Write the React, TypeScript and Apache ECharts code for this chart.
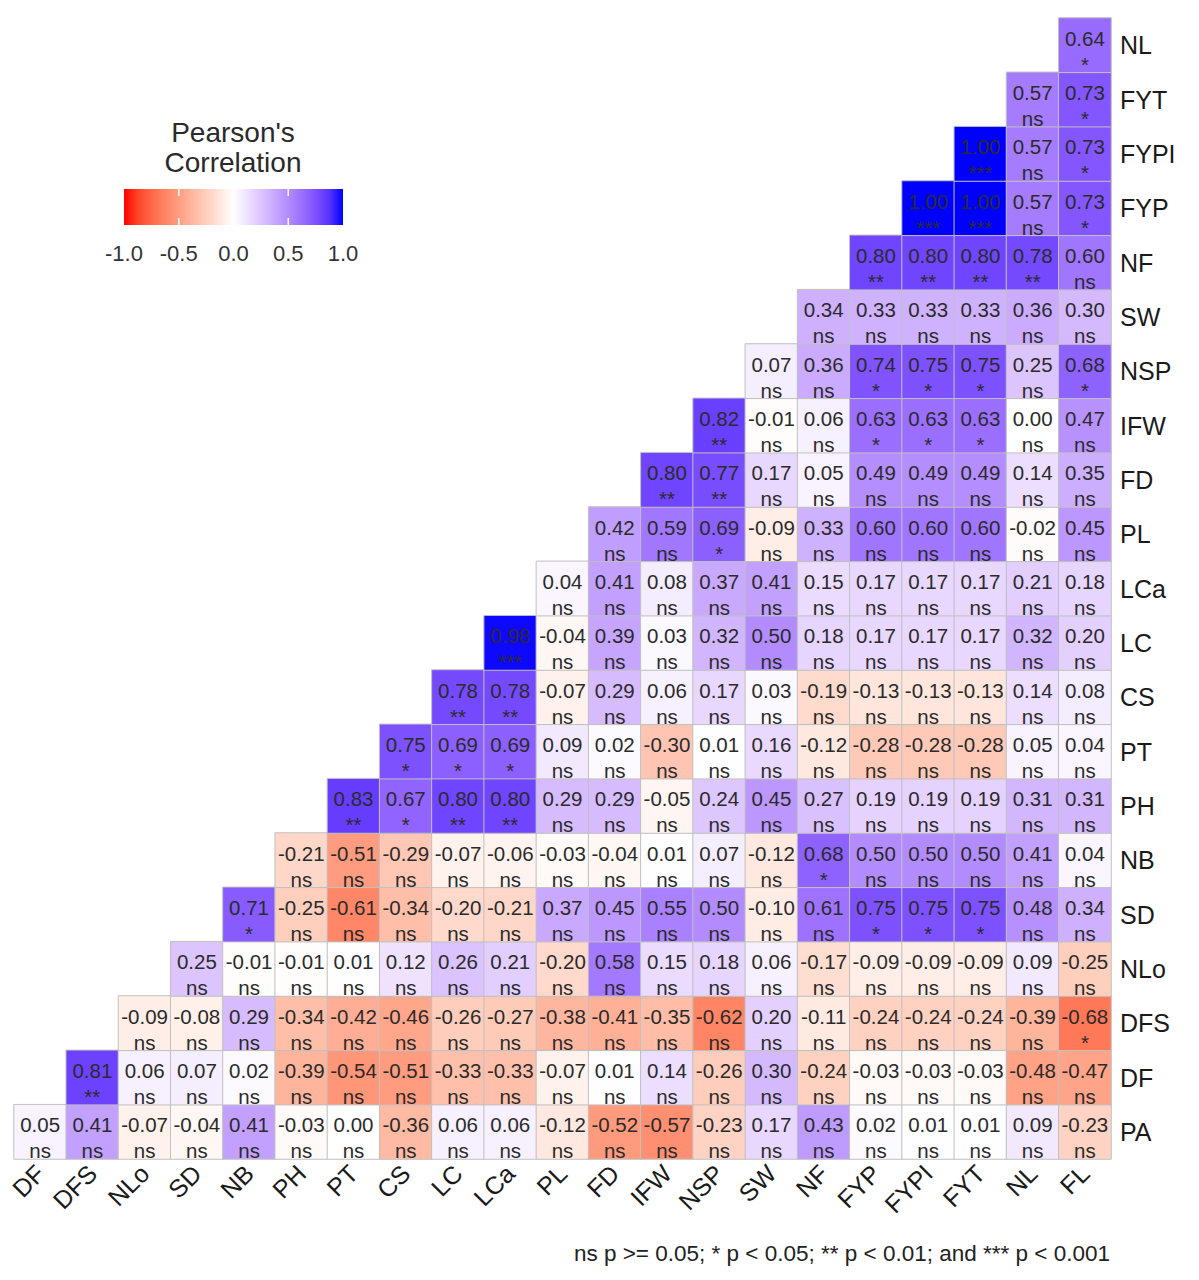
import React, { useEffect, useRef } from 'react';
import * as echarts from 'echarts';

// variables on each axis (rows listed bottom to top)
const rowVars = ['PA', 'DF', 'DFS', 'NLo', 'SD', 'NB', 'PH', 'PT', 'CS', 'LC', 'LCa', 'PL', 'FD', 'IFW', 'NSP', 'SW', 'NF', 'FYP', 'FYPI', 'FYT', 'NL'];
const colVars = ['DF', 'DFS', 'NLo', 'SD', 'NB', 'PH', 'PT', 'CS', 'LC', 'LCa', 'PL', 'FD', 'IFW', 'NSP', 'SW', 'NF', 'FYP', 'FYPI', 'FYT', 'NL', 'FL'];

// correlations, row by row; row i starts at column i
const corrPA = [0.05, 0.41, -0.07, -0.04, 0.41, -0.03, 0.0, -0.36, 0.06, 0.06, -0.12, -0.52, -0.57, -0.23, 0.17, 0.43, 0.02, 0.01, 0.01, 0.09, -0.23];
const corrDF = [0.81, 0.06, 0.07, 0.02, -0.39, -0.54, -0.51, -0.33, -0.33, -0.07, 0.01, 0.14, -0.26, 0.3, -0.24, -0.03, -0.03, -0.03, -0.48, -0.47];
const corrDFS = [-0.09, -0.08, 0.29, -0.34, -0.42, -0.46, -0.26, -0.27, -0.38, -0.41, -0.35, -0.62, 0.2, -0.11, -0.24, -0.24, -0.24, -0.39, -0.68];
const corrNLo = [0.25, -0.01, -0.01, 0.01, 0.12, 0.26, 0.21, -0.2, 0.58, 0.15, 0.18, 0.06, -0.17, -0.09, -0.09, -0.09, 0.09, -0.25];
const corrSD = [0.71, -0.25, -0.61, -0.34, -0.2, -0.21, 0.37, 0.45, 0.55, 0.5, -0.1, 0.61, 0.75, 0.75, 0.75, 0.48, 0.34];
const corrNB = [-0.21, -0.51, -0.29, -0.07, -0.06, -0.03, -0.04, 0.01, 0.07, -0.12, 0.68, 0.5, 0.5, 0.5, 0.41, 0.04];
const corrPH = [0.83, 0.67, 0.8, 0.8, 0.29, 0.29, -0.05, 0.24, 0.45, 0.27, 0.19, 0.19, 0.19, 0.31, 0.31];
const corrPT = [0.75, 0.69, 0.69, 0.09, 0.02, -0.3, 0.01, 0.16, -0.12, -0.28, -0.28, -0.28, 0.05, 0.04];
const corrCS = [0.78, 0.78, -0.07, 0.29, 0.06, 0.17, 0.03, -0.19, -0.13, -0.13, -0.13, 0.14, 0.08];
const corrLC = [0.98, -0.04, 0.39, 0.03, 0.32, 0.5, 0.18, 0.17, 0.17, 0.17, 0.32, 0.2];
const corrLCa = [0.04, 0.41, 0.08, 0.37, 0.41, 0.15, 0.17, 0.17, 0.17, 0.21, 0.18];
const corrPL = [0.42, 0.59, 0.69, -0.09, 0.33, 0.6, 0.6, 0.6, -0.02, 0.45];
const corrFD = [0.8, 0.77, 0.17, 0.05, 0.49, 0.49, 0.49, 0.14, 0.35];
const corrIFW = [0.82, -0.01, 0.06, 0.63, 0.63, 0.63, 0.0, 0.47];
const corrNSP = [0.07, 0.36, 0.74, 0.75, 0.75, 0.25, 0.68];
const corrSW = [0.34, 0.33, 0.33, 0.33, 0.36, 0.3];
const corrNF = [0.8, 0.8, 0.8, 0.78, 0.6];
const corrFYP = [1.0, 1.0, 0.57, 0.73];
const corrFYPI = [1.0, 0.57, 0.73];
const corrFYT = [0.57, 0.73];
const corrNL = [0.64];

// number of stars per cell (0 = ns)
const sigPA = [0, 0, 0, 0, 0, 0, 0, 0, 0, 0, 0, 0, 0, 0, 0, 0, 0, 0, 0, 0, 0];
const sigDF = [2, 0, 0, 0, 0, 0, 0, 0, 0, 0, 0, 0, 0, 0, 0, 0, 0, 0, 0, 0];
const sigDFS = [0, 0, 0, 0, 0, 0, 0, 0, 0, 0, 0, 0, 0, 0, 0, 0, 0, 0, 1];
const sigNLo = [0, 0, 0, 0, 0, 0, 0, 0, 0, 0, 0, 0, 0, 0, 0, 0, 0, 0];
const sigSD = [1, 0, 0, 0, 0, 0, 0, 0, 0, 0, 0, 0, 1, 1, 1, 0, 0];
const sigNB = [0, 0, 0, 0, 0, 0, 0, 0, 0, 0, 1, 0, 0, 0, 0, 0];
const sigPH = [2, 1, 2, 2, 0, 0, 0, 0, 0, 0, 0, 0, 0, 0, 0];
const sigPT = [1, 1, 1, 0, 0, 0, 0, 0, 0, 0, 0, 0, 0, 0];
const sigCS = [2, 2, 0, 0, 0, 0, 0, 0, 0, 0, 0, 0, 0];
const sigLC = [3, 0, 0, 0, 0, 0, 0, 0, 0, 0, 0, 0];
const sigLCa = [0, 0, 0, 0, 0, 0, 0, 0, 0, 0, 0];
const sigPL = [0, 0, 1, 0, 0, 0, 0, 0, 0, 0];
const sigFD = [2, 2, 0, 0, 0, 0, 0, 0, 0];
const sigIFW = [2, 0, 0, 1, 1, 1, 0, 0];
const sigNSP = [0, 0, 1, 1, 1, 0, 1];
const sigSW = [0, 0, 0, 0, 0, 0];
const sigNF = [2, 2, 2, 2, 0];
const sigFYP = [3, 3, 0, 1];
const sigFYPI = [3, 0, 1];
const sigFYT = [0, 1];
const sigNL = [1];

const corrRows = [corrPA, corrDF, corrDFS, corrNLo, corrSD, corrNB, corrPH, corrPT, corrCS, corrLC, corrLCa, corrPL, corrFD, corrIFW, corrNSP, corrSW, corrNF, corrFYP, corrFYPI, corrFYT, corrNL];
const sigRows = [sigPA, sigDF, sigDFS, sigNLo, sigSD, sigNB, sigPH, sigPT, sigCS, sigLC, sigLCa, sigPL, sigFD, sigIFW, sigNSP, sigSW, sigNF, sigFYP, sigFYPI, sigFYT, sigNL];

const legendTicks = [-1.0, -0.5, 0.0, 0.5, 1.0];

// red - white - blue, sampled in Lab space like ggplot's gradient2
const palette = [
  '#FF0000', '#FF4427', '#FF6846', '#FF8464', '#FF9E81', '#FFB7A0', '#FFCFBE', '#FFE7DE',
  '#FFFFFF',
  '#EEE1FF', '#DCC5FF', '#C8A8FF', '#B28BFF', '#9B6FFF', '#7E51FF', '#5932FF', '#0000FF',
];

const FONT = '"Liberation Sans", Arial, sans-serif';

const App: React.FC = () => {
  const chartRef = useRef<HTMLDivElement>(null);

  useEffect(() => {
    document.body.style.margin = '0';
    if (!chartRef.current) return;
    const chart = echarts.init(chartRef.current, undefined, { renderer: 'svg' });

    const data: any[] = [];
    corrRows.forEach((row, i) => {
      row.forEach((v, k) => {
        const stars = sigRows[i][k];
        data.push([i + k, i, v, stars === 0 ? 'ns' : '*'.repeat(stars)]);
      });
    });

    // legend bar geometry
    const barX = 124;
    const barY = 189;
    const barW = 219;
    const barH = 36;
    const toX = (v: number) => barX + ((v + 1) / 2) * barW;

    const graphics: any[] = [
      { type: 'text', x: 233, y: 132, style: { text: "Pearson's", fontSize: 28, fontFamily: FONT, fill: '#2a2a2a', textAlign: 'center', textVerticalAlign: 'middle' } },
      { type: 'text', x: 233, y: 162, style: { text: 'Correlation', fontSize: 28, fontFamily: FONT, fill: '#2a2a2a', textAlign: 'center', textVerticalAlign: 'middle' } },
      {
        type: 'rect',
        shape: { x: barX, y: barY, width: barW, height: barH },
        style: {
          fill: new echarts.graphic.LinearGradient(0, 0, 1, 0,
            palette.map((c, i) => ({ offset: i / (palette.length - 1), color: c }))),
        },
      },
    ];
    legendTicks.forEach((t) => {
      const x = toX(t);
      if (t > -1 && t < 1) {
        graphics.push({ type: 'line', shape: { x1: x, y1: barY, x2: x, y2: barY + 7 }, style: { stroke: '#fff', lineWidth: 1.5 } });
        graphics.push({ type: 'line', shape: { x1: x, y1: barY + barH - 7, x2: x, y2: barY + barH }, style: { stroke: '#fff', lineWidth: 1.5 } });
      }
      graphics.push({
        type: 'text', x, y: 253,
        style: { text: t.toFixed(1), fontSize: 22, fontFamily: FONT, fill: '#333', textAlign: 'center', textVerticalAlign: 'middle' },
      });
    });
    graphics.push({
      type: 'text', x: 1110, y: 1253,
      style: {
        text: 'ns p >= 0.05; * p < 0.05; ** p < 0.01; and *** p < 0.001',
        fontSize: 22.5, fontFamily: FONT, fill: '#222', textAlign: 'right', textVerticalAlign: 'middle',
      },
    });

    const option: echarts.EChartsOption = {
      animation: false,
      textStyle: { fontFamily: FONT },
      grid: { left: 14, top: 18, width: 1097, height: 1141, containLabel: false },
      xAxis: {
        type: 'category',
        data: colVars,
        axisLine: { show: false },
        axisTick: { show: false },
        splitLine: { show: false },
        axisLabel: { interval: 0, rotate: 45, fontSize: 25, color: '#1a1a1a', margin: 10, fontFamily: FONT },
      },
      yAxis: {
        type: 'category',
        data: rowVars,
        position: 'right',
        axisLine: { show: false },
        axisTick: { show: false },
        splitLine: { show: false },
        axisLabel: { interval: 0, fontSize: 25, color: '#1a1a1a', margin: 9, fontFamily: FONT },
      },
      visualMap: {
        type: 'continuous',
        show: false,
        min: -1,
        max: 1,
        dimension: 2,
        inRange: { color: palette },
      },
      series: [
        {
          type: 'heatmap',
          data,
          itemStyle: { borderColor: '#c0c0c0', borderWidth: 1 },
          emphasis: { disabled: true },
          label: {
            show: true,
            offset: [0, 6],
            formatter: (p: any) => `{v|${Number(p.data[2]).toFixed(2)}}\n{s|${p.data[3]}}`,
            rich: {
              v: { fontSize: 20.5, lineHeight: 26, color: '#2b2b2b', fontFamily: FONT },
              s: { fontSize: 20.5, lineHeight: 26, color: '#2b2b2b', fontFamily: FONT },
            },
          },
        },
      ],
      graphic: graphics,
    };

    chart.setOption(option);
    return () => {
      chart.dispose();
    };
  }, []);

  return <div ref={chartRef} style={{ width: '1199px', height: '1280px' }} />;
};

export default App;
